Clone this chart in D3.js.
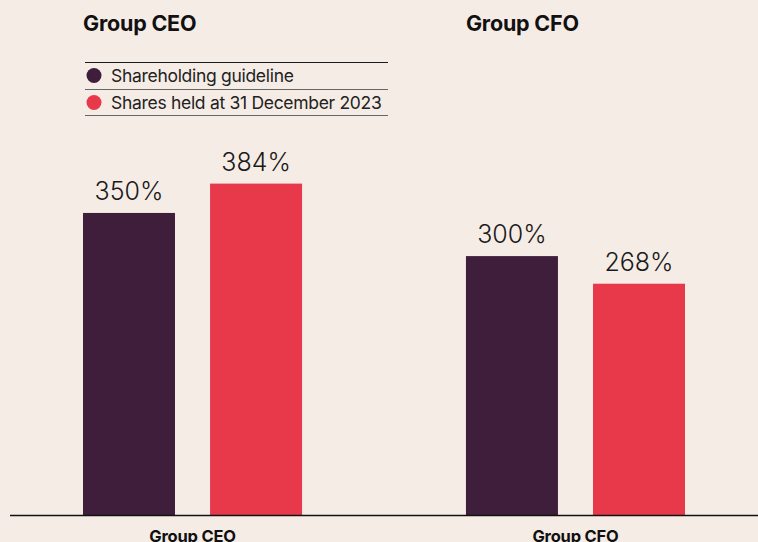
<!DOCTYPE html>
<html>
<head>
<meta charset="utf-8">
<script src="https://cdn.jsdelivr.net/npm/d3@7"></script>
<style>
  html, body { margin: 0; padding: 0; background: #f6ece6; }
  svg { display: block; }
</style>
</head>
<body>
<svg id="chart" width="758" height="542"></svg>
<script>
// Shareholding data (% of salary)
const groups = ["Group CEO", "Group CFO"];
const seriesNames = ["Shareholding guideline", "Shares held at 31 December 2023"];
const guideline = [350, 300];
const held = [384, 268];
const colors = ["#3f1e3c", "#e8394b"];

const svg = d3.select("#chart");
const W = 758, H = 542;
const baseY = 515;

svg.append("rect").attr("width", W).attr("height", H).attr("fill", "#f6ece6");

const x0 = d3.scaleBand().domain(groups).range([83, 685]).paddingInner(0.428).paddingOuter(0);
const x1 = d3.scaleBand().domain(seriesNames).range([0, x0.bandwidth()]).paddingInner(0.276).paddingOuter(0);
const y = d3.scaleLinear().domain([0, 400]).range([baseY, baseY - 0.863 * 400]);

const rows = groups.map((g, i) => ({ group: g, values: [guideline[i], held[i]] }));

const textFont = "Inter, 'Open Sans', sans-serif";

// Panel titles
svg.selectAll("text.title")
  .data(groups)
  .join("text")
  .attr("class", "title")
  .attr("x", g => x0(g))
  .attr("y", 31)
  .attr("font-family", textFont)
  .attr("font-weight", 700)
  .attr("font-size", 21.5)
  .attr("letter-spacing", -0.2)
  .attr("fill", "#111")
  .text(g => g);

// Legend with rule lines
const legend = svg.append("g").attr("transform", "translate(85,62)");
[0, 27, 53].forEach(dy => {
  legend.append("line")
    .attr("x1", 0).attr("x2", 303)
    .attr("y1", dy + 0.5).attr("y2", dy + 0.5)
    .attr("stroke", dy === 0 ? "#1a1a1a" : "#666")
    .attr("stroke-width", 1);
});
seriesNames.forEach((s, i) => {
  const gy = 13.5 + i * 27;
  legend.append("circle").attr("cx", 9).attr("cy", gy).attr("r", 7.5).attr("fill", colors[i]);
  legend.append("text")
    .attr("x", 26).attr("y", gy + 6)
    .attr("font-family", textFont)
    .attr("font-weight", 400)
    .attr("font-size", 17.5)
    .attr("letter-spacing", -0.3)
    .attr("fill", "#222")
    .text(s);
});

// Bars
const groupG = svg.selectAll("g.group")
  .data(rows)
  .join("g")
  .attr("class", "group")
  .attr("transform", d => `translate(${x0(d.group)},0)`);

groupG.selectAll("rect")
  .data(d => d.values.map((v, i) => ({ key: seriesNames[i], value: v, i })))
  .join("rect")
  .attr("x", d => x1(d.key))
  .attr("y", d => y(d.value))
  .attr("width", x1.bandwidth())
  .attr("height", d => baseY - y(d.value))
  .attr("fill", d => colors[d.i]);

groupG.selectAll("text.val")
  .data(d => d.values.map((v, i) => ({ key: seriesNames[i], value: v, i })))
  .join("text")
  .attr("class", "val")
  .attr("x", d => x1(d.key) + x1.bandwidth() / 2)
  .attr("y", d => y(d.value) - 13)
  .attr("text-anchor", "middle")
  .attr("font-family", textFont)
  .attr("font-weight", 300)
  .attr("font-size", 25)
  .attr("fill", "#1a1a1a")
  .text(d => d.value + "%");

// Baseline axis
const axis = svg.append("g").attr("transform", `translate(0,${baseY})`)
  .call(d3.axisBottom(x0).tickSize(0).tickPadding(15));
axis.select(".domain").attr("d", `M10,0.5H758`).attr("stroke", "#111").attr("stroke-width", 1.3);
axis.selectAll(".tick text")
  .attr("font-family", textFont)
  .attr("font-weight", 700)
  .attr("font-size", 16.5)
  .attr("letter-spacing", -0.2)
  .attr("fill", "#111");
</script>
</body>
</html>
